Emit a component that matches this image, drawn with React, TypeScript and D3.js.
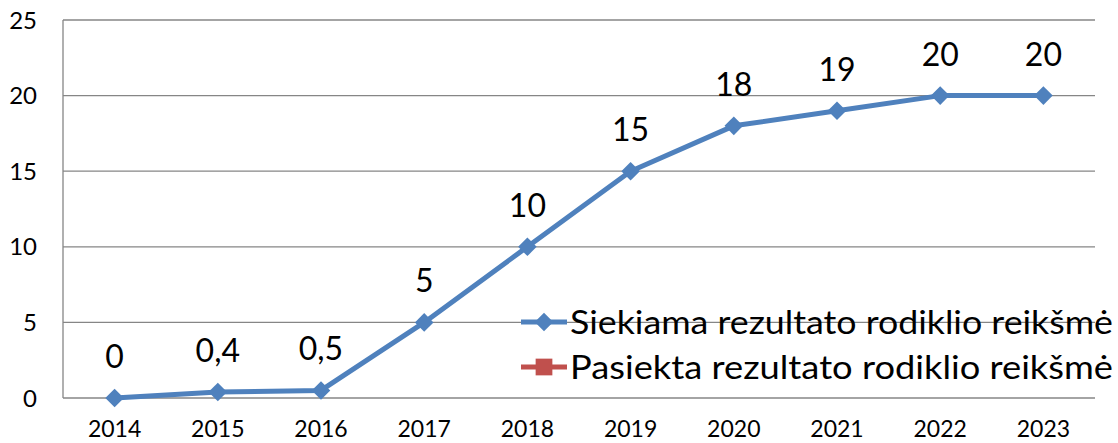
import * as d3 from 'd3';

const years = ['2014', '2015', '2016', '2017', '2018', '2019', '2020', '2021', '2022', '2023'];
const targetValues = [0, 0.4, 0.5, 5, 10, 15, 18, 19, 20, 20];
const targetLabels = ['0', '0,4', '0,5', '5', '10', '15', '18', '19', '20', '20'];
const achievedValues: number[] = [];
const yTicks = [0, 5, 10, 15, 20, 25];
const seriesNames = ['Siekiama rezultato rodiklio reikšmė', 'Pasiekta rezultato rodiklio reikšmė'];

const width = 1118;
const height = 443;
const left = 63;
const right = 1095;
const top = 20;
const bottom = 398;
const font = 'Lato, "Open Sans", sans-serif';

const App = () => {
  const x = d3.scaleBand().domain(years).range([left, right]);
  const y = d3.scaleLinear().domain([0, 25]).range([bottom, top]);
  const cx = (d: string) => (x(d) ?? 0) + x.bandwidth() / 2;

  const line = d3
    .line<number>()
    .x((_, i) => cx(years[i]))
    .y((d) => y(d));

  const diamond = d3.symbol().type(d3.symbolDiamond2).size(220)();
  const square = d3.symbol().type(d3.symbolSquare).size(280)();

  return (
    <svg width={width} height={height} style={{ position: 'absolute', left: 0, top: 0 }}>
      <rect width={width} height={height} fill='#fff' />
      {/* grid */}
      {yTicks.map((t) => (
        <line key={t} x1={left} x2={right} y1={y(t)} y2={y(t)} stroke='#868686' strokeWidth={1.3} />
      ))}
      <line x1={left} x2={left} y1={top} y2={bottom} stroke='#868686' strokeWidth={1.3} />
      {yTicks.map((t) => (
        <text key={t} x={37} y={y(t)} dy='0.36em' textAnchor='end' fontFamily={font} fontSize={24}>
          {t}
        </text>
      ))}
      {years.map((yr) => (
        <text key={yr} x={cx(yr)} y={437} textAnchor='middle' fontFamily={font} fontSize={23}>
          {yr}
        </text>
      ))}
      {/* series */}
      <path d={line(targetValues) ?? ''} fill='none' stroke='#4F81BD' strokeWidth={5} strokeLinejoin='round' />
      {targetValues.map((v, i) => (
        <path key={i} d={diamond ?? ''} transform={`translate(${cx(years[i])},${y(v)})`} fill='#4F81BD' />
      ))}
      {achievedValues.length > 0 && (
        <path d={line(achievedValues) ?? ''} fill='none' stroke='#C0504D' strokeWidth={5} />
      )}
      {targetValues.map((v, i) => (
        <text key={i} x={cx(years[i])} y={y(v) - 30} textAnchor='middle' fontFamily={font} fontSize={32}>
          {targetLabels[i]}
        </text>
      ))}
      {/* legend */}
      {seriesNames.map((name, i) => {
        const ly = 322 + i * 45;
        const color = i === 0 ? '#4F81BD' : '#C0504D';
        return (
          <g key={name}>
            <line x1={521} x2={567} y1={ly} y2={ly} stroke={color} strokeWidth={5} />
            <path d={(i === 0 ? diamond : square) ?? ''} transform={`translate(544,${ly})`} fill={color} />
            <text
              x={570}
              y={ly}
              dy='0.36em'
              fontFamily={font}
              fontSize={32}
              textLength={543}
              lengthAdjust='spacingAndGlyphs'
            >
              {name}
            </text>
          </g>
        );
      })}
    </svg>
  );
};

export default App;
